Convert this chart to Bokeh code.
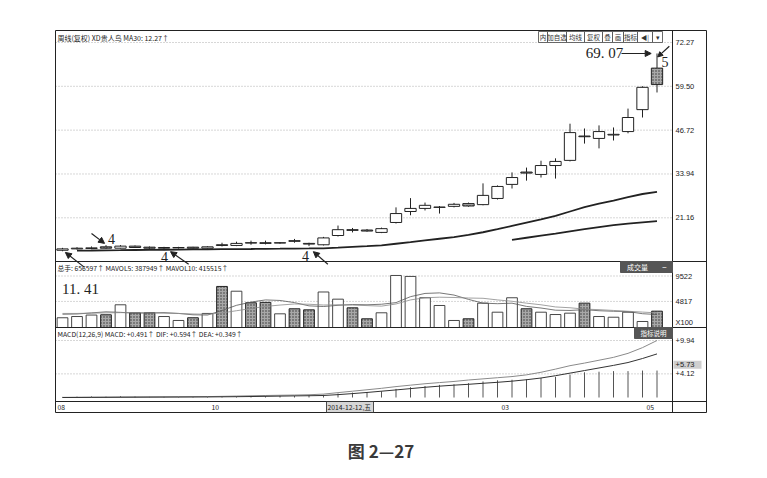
from bokeh.plotting import figure
from bokeh.models import Range1d, Arrow, NormalHead
from bokeh.core.properties import value
from bokeh.embed import file_html
from bokeh.resources import INLINE

# ---------------- data (weekly bars) ----------------
bar_idx = list(range(42))
open_ = [11.7, 12.1, 12.2, 12.7, 12.3, 12.9, 12.6, 12.3, 12.4, 12.6, 12.3, 13.3, 13.1, 13.9,
         13.9, 13.8, 14.5, 13.7, 13.3, 16.0, 17.7, 17.6, 16.9, 19.8, 23.0, 23.9, 24.2, 24.5,
         25.3, 25.0, 26.8, 30.9, 34.5, 33.8, 36.4, 37.9, 45.0, 44.3, 45.3, 46.3, 52.7, 64.8]
close_ = [12.1, 12.3, 12.4, 12.3, 12.9, 12.5, 12.3, 12.5, 12.5, 12.3, 12.7, 13.1, 13.7, 13.8,
          13.7, 13.9, 14.3, 13.5, 15.3, 17.7, 17.5, 17.3, 18.0, 22.4, 23.9, 24.8, 24.3, 25.1,
          24.6, 27.7, 30.3, 32.9, 34.2, 36.4, 37.6, 46.0, 44.8, 46.3, 45.5, 50.4, 59.2, 60.0]
high_ = [12.4, 12.6, 12.8, 13.2, 13.2, 13.1, 12.8, 12.7, 12.7, 12.7, 12.9, 13.9, 14.2, 14.5,
         14.5, 14.1, 15.0, 13.9, 15.6, 18.9, 18.2, 17.9, 18.3, 24.2, 26.9, 25.6, 24.6, 25.5,
         25.6, 31.2, 30.6, 34.4, 35.8, 37.8, 38.5, 48.6, 47.2, 48.1, 47.5, 53.0, 59.5, 69.07]
low_ = [11.41, 11.9, 12.0, 12.1, 12.2, 12.4, 12.1, 11.7, 12.2, 12.2, 12.2, 12.8, 12.9, 13.3,
        13.4, 13.6, 13.9, 12.9, 13.1, 15.7, 16.9, 17.1, 16.7, 19.5, 21.9, 23.3, 22.4, 24.2,
        24.4, 24.8, 26.5, 29.7, 32.0, 32.9, 32.6, 37.6, 42.8, 41.4, 43.7, 45.8, 50.4, 57.7]
# volume in units of 100 lots (the axis unit "X100")
volume = [1800, 2030, 2300, 2350, 4200, 2720, 2720, 2030, 1300, 1800, 2600, 7590, 6710, 4570,
          4650, 2530, 3460, 3270, 6566, 5240, 3640, 1610, 2720, 9620, 9440, 5500, 4070, 1300,
          1610, 4500, 2830, 5500, 3460, 2830, 2400, 2650, 4500, 2030, 1900, 2830, 1110, 3020]
mavol5 = [2450, 2500, 2700, 2900, 2800, 2650, 2700, 2750, 2600, 2350, 2300, 3150, 4100, 4700,
          5100, 5000, 4600, 4000, 3880, 4100, 4250, 4200, 4300, 4600, 5700, 6300, 6400, 6000,
          5200, 4500, 4400, 4500, 3900, 3600, 3200, 3150, 3300, 3100, 3000, 2950, 2550, 2400]
mavol10 = [2600, 2600, 2650, 2700, 2750, 2750, 2700, 2650, 2600, 2500, 2450, 2700, 3100, 3500,
           3900, 4150, 4350, 4300, 4155, 4200, 4150, 4050, 3950, 4350, 5100, 5500, 5600, 5550,
           5450, 5400, 5100, 4850, 4500, 4200, 3800, 3650, 3400, 3300, 3150, 3000, 2850, 2700]
ma30_idx = list(range(1, 42))
ma30 = [11.60, 11.63, 11.69, 11.72, 11.77, 11.79, 11.84, 11.87, 11.93, 11.95, 12.01, 12.04,
        12.07, 12.13, 12.15, 12.20, 12.23, 12.27, 12.45, 12.68, 12.90, 13.15, 13.60, 14.05,
        14.55, 15.05, 15.55, 16.20, 16.95, 17.85, 18.80, 19.75, 20.70, 21.70, 23.00, 24.30,
        25.30, 26.20, 27.20, 28.10, 28.70]
ma60_idx = list(range(31, 42))
ma60 = [14.75, 15.35, 15.95, 16.55, 17.20, 17.85, 18.45, 19.00, 19.45, 19.85, 20.20]
dif = [0.02, 0.03, 0.05, 0.06, 0.09, 0.10, 0.11, 0.12, 0.13, 0.14, 0.16, 0.20, 0.25, 0.30,
       0.35, 0.39, 0.43, 0.48, 0.594, 0.85, 1.10, 1.35, 1.60, 1.90, 2.15, 2.40, 2.60, 2.80,
       3.05, 3.25, 3.45, 3.65, 3.95, 4.40, 4.95, 5.55, 6.00, 6.50, 7.00, 7.70, 8.70, 9.94]
dea = [0.00, 0.01, 0.02, 0.03, 0.04, 0.05, 0.06, 0.07, 0.08, 0.09, 0.10, 0.12, 0.14, 0.17,
       0.20, 0.24, 0.28, 0.31, 0.349, 0.50, 0.68, 0.88, 1.10, 1.32, 1.55, 1.78, 1.98, 2.15,
       2.30, 2.48, 2.65, 2.85, 3.10, 3.40, 3.80, 4.25, 4.70, 5.15, 5.60, 6.10, 6.80, 7.60]
macd = [0.10, 0.15, 0.20, 0.15, 0.25, 0.20, 0.15, 0.12, 0.10, 0.10, 0.12, 0.16, 0.22, 0.26,
        0.30, 0.30, 0.32, 0.36, 0.491, 0.70, 0.85, 0.95, 1.10, 1.50, 1.80, 2.00, 2.20, 2.30,
        2.50, 2.80, 3.00, 3.10, 3.20, 3.40, 3.60, 4.00, 4.40, 4.50, 4.60, 4.60, 4.70, 4.70]

price_ticks = [72.27, 59.50, 46.72, 33.94, 21.16]
price_tick_labels = ["72.27", "59.50", "46.72", "33.94", "21.16"]
vol_ticks = [9522, 4817]
vol_tick_labels = ["9522", "4817"]
vol_unit_label = "X100"
macd_ticks = [9.94, 4.12]
macd_tick_labels = ["+9.94", "+4.12"]
macd_marker = 5.73
macd_marker_label = "+5.73"
date_tick_idx = [0, 10, 18, 30, 40]
date_tick_labels = ["08", "10", "2014-12-12,五", "03", "05"]

title_text = "周线(复权) XD贵人鸟 MA30: 12.27↑"
vol_text = "总手: 656597↑ MAVOL5: 387949↑ MAVOL10: 415515↑"
macd_text = "MACD(12,26,9) MACD: +0.491↑ DIF: +0.594↑ DEA: +0.349↑"
toolbar_labels = ["内", "加自选", "均线", "复权", "叠", "画", "指标", "◀|", "▾"]
vol_button = "成交量"
macd_button = "指标说明"
peak_label = "69. 07"
low_label = "11. 41"
wave_labels = ["4", "4", "4", "5"]
caption = "图 2—27"

# ---------------- layout (page pixels) ----------------
FR_L, FR_R, FR_T, FR_B = 53, 708, 28, 470          # plot frame on the page
BOX_L, BOX_R, BOX_T, BOX_B = 55, 706, 30, 412      # chart window border
DIV_X = 672                                         # price-axis strip divider
SEP_PV, SEP_VM, SEP_MD = 261, 327, 401             # panel separators
X0, DX = 62.0, 14.5                                 # bar 0 position, bar spacing
PY_REF, P_PX = 42.0, 3.43                           # 72.27 row, px per price unit
VY0, V_PX = 327.0, 51.5 / 9522                      # volume zero row, px per unit
MY0, M_PX = 397.0, 57.0 / 9.94                      # macd zero row, px per unit

x_lo, x_hi = (FR_L - X0) / DX, (FR_R - X0) / DX
price_lo = price_ticks[0] - (FR_B - PY_REF) / P_PX
price_hi = price_ticks[0] + (PY_REF - FR_T) / P_PX
vol_lo, vol_hi = -(FR_B - VY0) / V_PX, (VY0 - FR_T) / V_PX
macd_lo, macd_hi = -(FR_B - MY0) / M_PX, (MY0 - FR_T) / M_PX

p = figure(width=FR_R + 4, height=FR_B + 2,
           x_range=Range1d(x_lo, x_hi), y_range=Range1d(price_lo, price_hi),
           output_backend="svg", toolbar_location=None,
           x_axis_location=None, y_axis_location=None,
           min_border_left=FR_L, min_border_right=4,
           min_border_top=FR_T, min_border_bottom=2,
           outline_line_color=None, background_fill_color="white",
           border_fill_color="white")
p.grid.visible = False
p.extra_x_ranges = {"px": Range1d(FR_L, FR_R)}
p.extra_y_ranges = {"py": Range1d(FR_B, FR_T),
                    "vol": Range1d(vol_lo, vol_hi),
                    "macd": Range1d(macd_lo, macd_hi)}

CJK = value("Noto Sans CJK SC")
SANS = value("Liberation Sans")
SERIF = value("Liberation Serif")
INK = "#222222"


def txt(xs, ys, texts, xr="px", yr="py", font=SANS, size="7px", color=INK,
        align="left", baseline="middle", style="normal"):
    p.text(x=xs, y=ys, text=texts, x_range_name=xr, y_range_name=yr, text_font=font,
           text_font_size=size, text_color=color, text_align=align,
           text_baseline=baseline, text_font_style=style)


# ---------------- grid lines ----------------
GRID = dict(line_color="#9a9a9a", line_width=0.8, line_dash="1 2", x_range_name="px")
p.segment(x0=[BOX_L] * 5, x1=[DIV_X] * 5, y0=price_ticks, y1=price_ticks, **GRID)
p.segment(x0=[BOX_L] * 2, x1=[DIV_X] * 2, y0=vol_ticks, y1=vol_ticks, y_range_name="vol", **GRID)
p.segment(x0=[BOX_L] * 2, x1=[DIV_X] * 2, y0=macd_ticks, y1=macd_ticks, y_range_name="macd", **GRID)

# ---------------- candles ----------------
up = [c >= o for o, c in zip(open_, close_)]
UPI = [i for i in bar_idx if up[i]]
DNI = [i for i in bar_idx if not up[i]]
HATCH = dict(fill_color="#a8a8a8", hatch_pattern="dot", hatch_color="#333333",
             hatch_scale=3, hatch_weight=1.0, line_color=INK, line_width=1)

p.segment(x0=bar_idx, x1=bar_idx, y0=low_, y1=high_, line_color=INK, line_width=1)
p.vbar(x=UPI, width=0.78, top=[max(open_[i], close_[i]) for i in UPI],
       bottom=[min(open_[i], close_[i]) for i in UPI],
       fill_color="white", line_color=INK, line_width=1)
p.vbar(x=DNI, width=0.78, top=[max(open_[i], close_[i]) for i in DNI],
       bottom=[min(open_[i], close_[i]) for i in DNI], **HATCH)

p.line(ma30_idx, ma30, line_color=INK, line_width=1.8)
p.line(ma60_idx, ma60, line_color=INK, line_width=1.8)

# ---------------- volume ----------------
p.vbar(x=UPI, width=0.74, top=[volume[i] for i in UPI], bottom=0, y_range_name="vol",
       fill_color="white", line_color="#333333", line_width=0.9)
p.vbar(x=DNI, width=0.74, top=[volume[i] for i in DNI], bottom=0, y_range_name="vol", **HATCH)
p.line(bar_idx, mavol5, y_range_name="vol", line_color="#555555", line_width=0.8)
p.line(bar_idx, mavol10, y_range_name="vol", line_color="#8a8a8a", line_width=0.8)

# ---------------- MACD ----------------
p.segment(x0=bar_idx, x1=bar_idx, y0=[0] * len(bar_idx), y1=macd, y_range_name="macd",
          line_color="#555555", line_width=1)
p.line(bar_idx, dif, y_range_name="macd", line_color="#8a8a8a", line_width=1)
p.line(bar_idx, dea, y_range_name="macd", line_color="#333333", line_width=1)

# ---------------- window frame ----------------
FRAME = dict(x_range_name="px", y_range_name="py", line_color=INK, line_width=1)
p.quad(left=[BOX_L], right=[BOX_R], top=[BOX_T], bottom=[BOX_B], fill_color=None, **FRAME)
p.segment(x0=[DIV_X, BOX_L, BOX_L, BOX_L], x1=[DIV_X, BOX_R, BOX_R, BOX_R],
          y0=[BOX_T, SEP_PV, SEP_VM, SEP_MD], y1=[BOX_B, SEP_PV, SEP_VM, SEP_MD], **FRAME)

# toolbar buttons
tb_edges = [538, 547, 566, 584, 602, 612, 623, 637, 652, 662]
p.quad(left=tb_edges[:-1], right=tb_edges[1:], top=[31] * 9, bottom=[42] * 9,
       fill_color="white", x_range_name="px", y_range_name="py", line_color="#444444",
       line_width=0.8)
txt([(a + b) / 2 for a, b in zip(tb_edges[:-1], tb_edges[1:])], [36.5] * 9, toolbar_labels,
    font=CJK, size="6.5px", align="center", color="#333333")

# panel headers
txt([57], [37], [title_text], font=CJK, size="7px")
txt([57], [267], [vol_text], font=CJK, size="6.8px")
txt([57], [333.5], [macd_text], font=CJK, size="6.8px")

# dark buttons
p.quad(left=[620, 634], right=[DIV_X, DIV_X], top=[SEP_PV, SEP_VM], bottom=[SEP_PV + 11, SEP_VM + 11],
       fill_color="#555555", line_color="#555555", x_range_name="px", y_range_name="py")
txt([637], [SEP_PV + 5.5], [vol_button], font=CJK, size="7px", color="white", align="center")
txt([664], [SEP_PV + 5.5], ["−"], size="8px", color="white", align="center")
txt([653], [SEP_VM + 5.5], [macd_button], font=CJK, size="6.5px", color="white", align="center")

# right strip labels (at their values)
txt([675] * 5, price_ticks, price_tick_labels, yr="default", size="7.5px")
txt([675] * 2, vol_ticks, vol_tick_labels, yr="vol", size="7.5px")
txt([675], [SEP_VM - 5], [vol_unit_label], size="7.5px")
p.quad(left=[DIV_X + 1], right=[BOX_R - 5], top=[macd_marker + 0.7], bottom=[macd_marker - 0.7],
       fill_color="#cfcfcf", line_color=None, x_range_name="px", y_range_name="macd")
txt([675] * 2, macd_ticks, macd_tick_labels, yr="macd", size="7.5px")
txt([675], [macd_marker], [macd_marker_label], yr="macd", size="7.5px")

# date row
date_x = [X0 + DX * i for i in date_tick_idx]
date_left = [BOX_L + 2 if k == 0 else date_x[k] + 4 for k in range(len(date_x))]
cur = date_tick_labels.index("2014-12-12,五")
p.quad(left=[date_left[cur] - 1], right=[date_left[cur] + 46], top=[SEP_MD], bottom=[BOX_B],
       fill_color="#d6d6d6", line_color=INK, line_width=0.8, x_range_name="px", y_range_name="py")
txt(date_left, [406.5] * 5, date_tick_labels, font=CJK, size="6.8px")

# ---------------- hand annotations (tied to bars) ----------------
ip = 41
ANN = dict(line_color=INK, line_width=1.2)
HEAD = dict(size=6, fill_color=INK, line_color=INK)
txt([ip - 3.62], [high_[ip]], [peak_label], xr="default", yr="default", font=SERIF,
    size="15px", align="center")
p.add_layout(Arrow(end=NormalHead(**HEAD), x_start=ip - 2.45, y_start=high_[ip],
                   x_end=ip - 0.4, y_end=high_[ip], **ANN))
p.add_layout(Arrow(end=NormalHead(size=5, fill_color=INK, line_color=INK),
                   x_start=ip + 0.85, y_start=high_[ip] + 2.1,
                   x_end=ip + 0.05, y_end=high_[ip] - 1.0, **ANN))
txt([ip + 0.55], [high_[ip] - 2.4], [wave_labels[3]], xr="default", yr="default", font=SERIF,
    size="14px", align="center")

txt([1.24], [low_[0] - 11.1], [low_label], xr="default", yr="default", font=SERIF,
    size="15px", align="center")
p.add_layout(Arrow(end=NormalHead(**HEAD), x_start=1.52, y_start=low_[0] - 4.7,
                   x_end=0.2, y_end=low_[0] - 0.35, **ANN))

for (tx, ty, sx, sy, ex, ey) in [(3.38, 15.1, 2.0, 16.6, 2.9, 13.7),
                                 (7.03, 9.6, 8.7, 7.6, 7.45, 11.3),
                                 (16.76, 9.9, 18.3, 7.6, 17.3, 11.3)]:
    txt([tx], [ty], ["4"], xr="default", yr="default", font=SERIF, size="14px", align="center")
    p.add_layout(Arrow(end=NormalHead(**HEAD), x_start=sx, y_start=sy, x_end=ex, y_end=ey, **ANN))

# caption
txt([(BOX_L + BOX_R) / 2], [450], [caption], font=CJK, size="17px", align="center",
    color="#3a3a3a", style="bold")

open("out.html", "w").write(file_html(p, INLINE))
